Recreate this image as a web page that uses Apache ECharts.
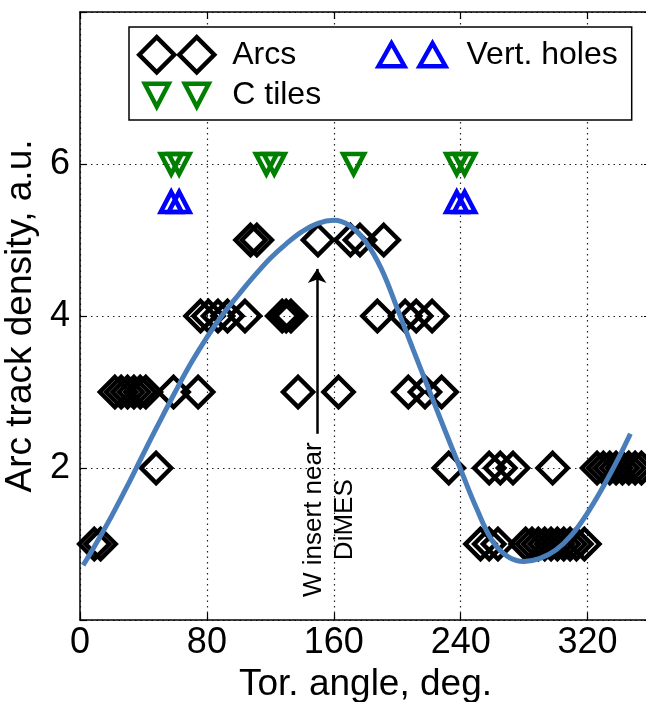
<!DOCTYPE html>
<html>
<head>
<meta charset="utf-8">
<script src="https://cdn.jsdelivr.net/npm/echarts@6/dist/echarts.min.js"></script>
<style>
html,body{margin:0;padding:0;background:#fff;}
#c{width:646px;height:702px;}
</style>
</head>
<body>
<div id="c"></div>
<script>
// ---- data ----
// Arcs: toroidal angle (deg) and arc track density (a.u.)
const arcDeg = [
  9, 13, 252.5, 258, 263.5, 281, 285, 289, 293, 297, 301, 305, 309, 313, 318,      // density 1
  48, 232.5, 258, 265, 273, 298, 326, 330, 334, 338, 342, 346, 350, 354,           // density 2
  22, 26, 30, 34, 38, 41.5, 59, 74.5, 137.5, 163, 207, 217.5, 228,                 // density 3
  76, 81, 87, 93, 104, 127.5, 130, 133, 187.5, 205, 212, 222,                      // density 4
  107.5, 111.5, 150, 170.5, 176.5, 191.5                                           // density 5
];
const arcDensity = [
  1,1,1,1,1,1,1,1,1,1,1,1,1,1,1,
  2,2,2,2,2,2,2,2,2,2,2,2,2,2,
  3,3,3,3,3,3,3,3,3,3,3,3,3,
  4,4,4,4,4,4,4,4,4,4,4,4,
  5,5,5,5,5,5
];
// C tiles
const cTileDeg = [57.5, 62.5, 117.5, 122.5, 172.5, 237.5, 242.5];
const cTileLevel = [6, 6, 6, 6, 6, 6, 6];
// Vertical holes
const vertHoleDeg = [57.5, 62.5, 237.5, 242.5];
const vertHoleLevel = [5.5, 5.5, 5.5, 5.5];
// Fit curve
const fitDeg = [2,10,20,30,40,50,60,70,80,90,100,110,120,130,140,150,160,170,180,190,200,210,220,230,240,250,260,270,280,290,300,310,320,330,340,347];
const fitDensity = [0.72,1.0,1.37,1.77,2.19,2.6,3.0,3.38,3.72,4.02,4.28,4.53,4.76,4.95,5.11,5.22,5.26,5.19,4.98,4.62,4.1,3.56,3.03,2.5,1.98,1.47,1.04,0.83,0.77,0.81,0.92,1.12,1.41,1.76,2.15,2.45];
// Axes / ticks
const xTickLabels = [0, 80, 160, 240, 320];
const yTickLabels = [2, 4, 6];
// Annotation
const arrowDeg = 149.5, arrowFrom = 2.45, arrowTo = 4.62;
const noteDeg = 157, noteLevel = 1.32;
const noteText = 'W insert near\nDiMES';

// ---- chart ----
const FONT = 'Liberation Sans';
const chart = echarts.init(document.getElementById('c'), null, {renderer: 'canvas'});

const zip = (a, b) => a.map((v, i) => [v, b[i]]);
const hollow = c => ({color: 'rgba(0,0,0,0)', borderColor: c, borderWidth: 4.5, opacity: 1});

const downTri = 'path://M0,0 L2,0 L1,2 Z';
const legDiamond = 'path://M0,17.5 L17.5,0 L35,17.5 L17.5,35 Z M40,17.5 L57.5,0 L75,17.5 L57.5,35 Z';
const legUp = 'path://M0,0 M75,35 M4,29 L17,6 L30,29 Z M45,29 L58,6 L71,29 Z';
const legDown = 'path://M0,0 M75,35 M5.5,6 L29.5,6 L17.5,29 Z M45.5,6 L69.5,6 L57.5,29 Z';

const axisLineStyle = {color: '#000', width: 1.5};
const gridLine = {show: true, lineStyle: {color: '#222', type: [1.5, 4], width: 1.2}};
const legText = (padL, padR) => ({fontFamily: FONT, fontSize: 32, lineHeight: 34, color: '#000', padding: [0, padR, 0, padL]});

const option = {
  animation: false,
  backgroundColor: '#fff',
  grid: {left: 80, top: 12, width: 571, height: 608, containLabel: false, outerBoundsMode: 'none'},
  xAxis: [{
    type: 'value', min: 0, max: 360, interval: 80, position: 'bottom',
    axisLine: {show: true, onZero: false, lineStyle: axisLineStyle},
    axisTick: {show: true, inside: true, length: 7, lineStyle: {color: '#000', width: 1.2}},
    axisLabel: {
      fontFamily: FONT, fontSize: 36, color: '#000', margin: 5, showMaxLabel: false,
      formatter: v => xTickLabels.indexOf(v) >= 0 ? String(v) : ''
    },
    splitLine: gridLine,
    name: 'Tor. angle, deg.', nameLocation: 'middle', nameGap: 46,
    nameTextStyle: {fontFamily: FONT, fontSize: 37, color: '#000'}
  }, {
    type: 'value', min: 0, max: 360, interval: 80, position: 'top',
    axisLine: {show: true, onZero: false, lineStyle: axisLineStyle},
    axisTick: {show: true, inside: true, length: 7, lineStyle: {color: '#000', width: 1.2}},
    axisLabel: {show: false}, splitLine: {show: false}
  }],
  yAxis: [{
    type: 'value', min: 0, max: 8, interval: 2, position: 'left',
    axisLine: {show: true, onZero: false, lineStyle: axisLineStyle},
    axisTick: {show: true, inside: true, length: 7, lineStyle: {color: '#000', width: 1.2}},
    axisLabel: {
      fontFamily: FONT, fontSize: 36, color: '#000', margin: 10,
      formatter: v => yTickLabels.indexOf(v) >= 0 ? String(v) : ''
    },
    splitLine: gridLine,
    name: 'Arc track density, a.u.', nameLocation: 'middle', nameGap: 37, nameRotate: 90,
    nameTextStyle: {fontFamily: FONT, fontSize: 37, color: '#000'}
  }, {
    type: 'value', min: 0, max: 8, interval: 2, position: 'right',
    axisLine: {show: true, onZero: false, lineStyle: axisLineStyle},
    axisTick: {show: true, inside: true, length: 7},
    axisLabel: {show: false}, splitLine: {show: false}
  }],
  legend: {
    left: 129, top: 27, orient: 'horizontal', width: 505,
    padding: [8, 14, 5, 8], itemGap: 1, itemWidth: 75, itemHeight: 35,
    backgroundColor: '#fff', borderColor: '#000', borderWidth: 1.5, borderRadius: 0,
    symbolRotate: 0, selectedMode: false,
    textStyle: legText(16, 0),
    data: [
      {name: 'Arcs', icon: legDiamond, itemStyle: hollow('#000'), textStyle: legText(13, 75)},
      {name: 'Vert. holes', icon: legUp, itemStyle: hollow('#0000ff'), textStyle: legText(12, 0)},
      {name: 'C tiles', icon: legDown, itemStyle: hollow('#008000'), textStyle: legText(13, 0)}
    ]
  },
  series: [
    {
      name: 'Arcs', type: 'scatter', symbol: 'diamond', symbolSize: 30, z: 2,
      itemStyle: hollow('#000'), data: zip(arcDeg, arcDensity), silent: true,
      markLine: {
        silent: true, animation: false, symbol: ['none', 'arrow'], symbolSize: 14,
        lineStyle: {color: '#000', width: 2.5, type: 'solid', opacity: 1},
        label: {show: false}, emphasis: {disabled: true},
        data: [[{coord: [arrowDeg, arrowFrom]}, {coord: [arrowDeg, arrowTo]}]]
      }
    },
    {
      name: 'C tiles', type: 'scatter', symbol: downTri, symbolSize: [21, 20], z: 2,
      itemStyle: hollow('#008000'), data: zip(cTileDeg, cTileLevel), silent: true
    },
    {
      name: 'Vert. holes', type: 'scatter', symbol: 'triangle', symbolSize: [21, 20], z: 2,
      itemStyle: hollow('#0000ff'), data: zip(vertHoleDeg, vertHoleLevel), silent: true
    },
    {
      name: 'fit', type: 'line', smooth: 0.4, symbol: 'none', z: 3, silent: true,
      lineStyle: {color: '#4a7ebb', width: 5}, data: zip(fitDeg, fitDensity)
    }
  ]
};
chart.setOption(option);

const p = chart.convertToPixel({gridIndex: 0}, [noteDeg, noteLevel]);
chart.setOption({
  graphic: [{
    type: 'text', x: p[0], y: p[1], rotation: Math.PI / 2, silent: true, z: 10,
    style: {text: noteText, align: 'center', verticalAlign: 'middle',
            fontFamily: FONT, fontSize: 26, lineHeight: 31, fill: '#000'}
  }]
});
</script>
</body>
</html>
